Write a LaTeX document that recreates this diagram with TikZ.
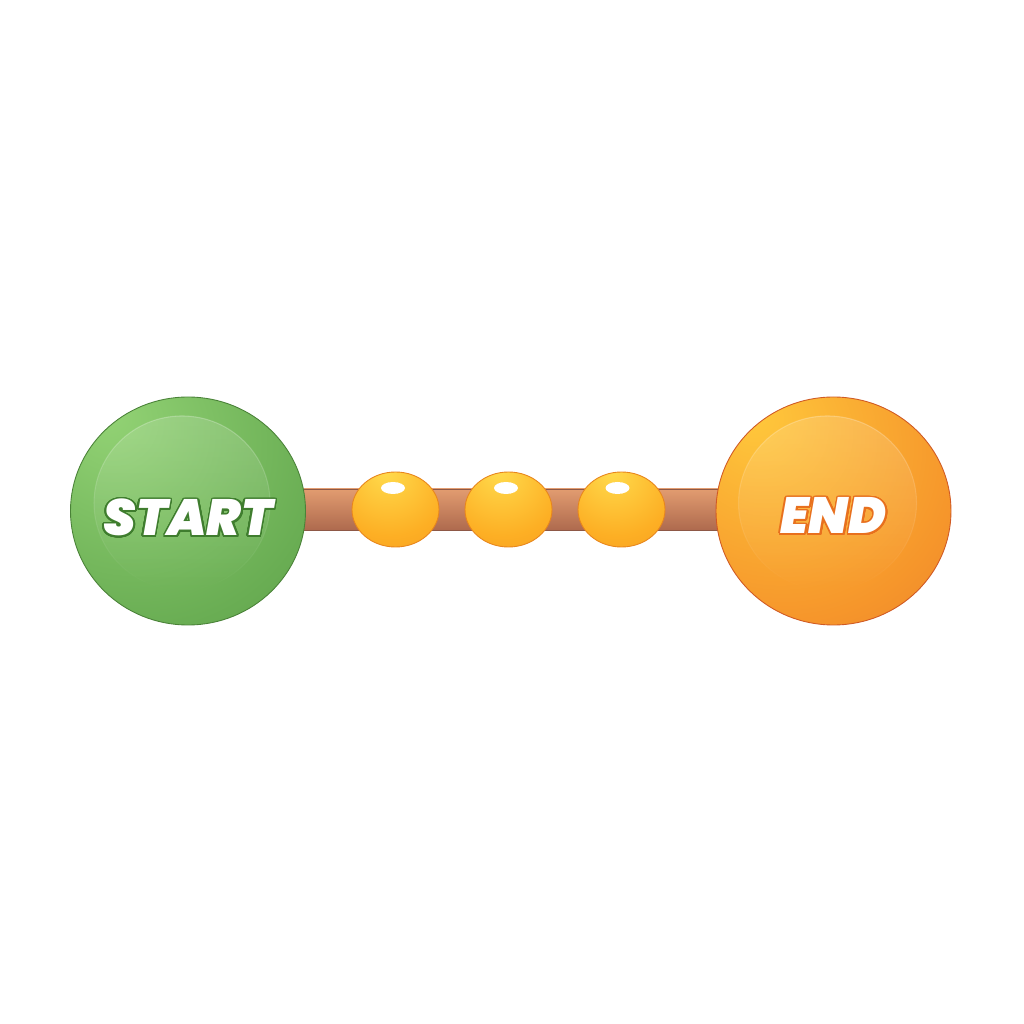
\documentclass[tikz,border=0pt]{standalone}
\usepackage{fontspec}
\setsansfont{Poppins}
\newfontfamily\ballfont{Poppins Black Italic}
\usepackage{contour}
\usepackage{tikz}
\usetikzlibrary{positioning, shapes.geometric, calc, fadings, backgrounds}

\definecolor{startLight}{HTML}{93D375}
\definecolor{startMid}{HTML}{69AD53}
\definecolor{startDark}{HTML}{4A8238}
\definecolor{startInk}{HTML}{3F7D2E}
\definecolor{endLight}{HTML}{FFC93C}
\definecolor{endMid}{HTML}{F6962B}
\definecolor{endDark}{HTML}{D05A24}
\definecolor{endInk}{HTML}{E8701E}
\definecolor{beadLight}{HTML}{FFDB4C}
\definecolor{beadMid}{HTML}{FDAF24}
\definecolor{beadDark}{HTML}{EE8618}
\definecolor{beadEdge}{HTML}{E8861C}
\definecolor{barTop}{HTML}{E29C70}
\definecolor{barBottom}{HTML}{AE6A4E}
\definecolor{barEdge}{HTML}{8E5846}

\pgfdeclareradialshading{startball}{\pgfpoint{-18bp}{22bp}}{color(0bp)=(startLight); color(38bp)=(startMid); color(82bp)=(startDark)}
\pgfdeclareradialshading{endball}{\pgfpoint{-18bp}{22bp}}{color(0bp)=(endLight); color(36bp)=(endMid); color(80bp)=(endDark)}
\pgfdeclareradialshading{beadball}{\pgfpoint{-6bp}{26bp}}{color(0bp)=(beadLight); color(32bp)=(beadMid); color(72bp)=(beadDark)}

\contourlength{0.9pt}
\contournumber{32}

\begin{document}
\begin{tikzpicture} [node distance = 4cm, on grid,
	ball/.style = {ellipse, minimum width = 4.7cm, minimum height = 4.56cm, inner sep = 0pt, line width = 0.5pt},
	bead/.style = {ellipse, shading = beadball, draw = beadEdge, line width = 0.5pt, minimum width = 1.74cm, minimum height = 1.5cm, inner sep = 0pt},
	glint/.style = {ellipse, fill = white, minimum width = 0.48cm, minimum height = 0.24cm, inner sep = 0pt},
	gloss/.style = {fill = white, fill opacity = 0.16, path fading = south, draw = white, draw opacity = 0.25, line width = 0.6pt},
	ballText/.style = {font = \ballfont\fontsize{29}{29}\selectfont, text = white, inner sep = 0pt, anchor = base}]
	% Frame : keeps the page as large as the reference
	\useasboundingbox (0,0) rectangle (20.48,20.48);

	% Start Node : Every other node is measured based to this one
	\node (start) [ball, shading = startball, draw = startDark] at (3.76,10.26) {};

	% End Node
	\node (end) [ball, shading = endball, draw = endDark, right = 12.91cm of start] {};

	% Gloss on both balls
	\fill [gloss] ($(start.center)+(-0.12,0.16)$) ellipse [x radius = 1.76cm, y radius = 1.74cm];
	\fill [gloss] ($(end.center)+(-0.12,0.16)$) ellipse [x radius = 1.78cm, y radius = 1.74cm];

	% Labels
	\node (startText) [ballText] at ($(start.center)+(0,-0.5)$) {\contour{startInk}{START}};
	\node (endText) [ballText] at ($(end.center)+(0,-0.46)$) {\contour{endInk}{END}};

	% Bar between the balls
	\begin{scope}[on background layer]
		\shade [top color = barTop, bottom color = barBottom, draw = barEdge, line width = 0.4pt]
		($(start.east)+(-0.3,0.44)$) rectangle ($(end.west)+(0.3,-0.38)$);
	\end{scope}

	% Beads on the bar
	\node (b1) [bead, right = 4.15cm of start, yshift = 0.03cm] {};
	\node (b2) [bead, right = 2.26cm of b1] {};
	\node (b3) [bead, right = 2.26cm of b2] {};

	% Glints
	\node (g1) [glint, above = 0.43cm of b1, xshift = -0.05cm] {};
	\node (g2) [glint, above = 0.43cm of b2, xshift = -0.05cm] {};
	\node (g3) [glint, above = 0.43cm of b3, xshift = -0.08cm] {};
\end{tikzpicture}
\end{document}
